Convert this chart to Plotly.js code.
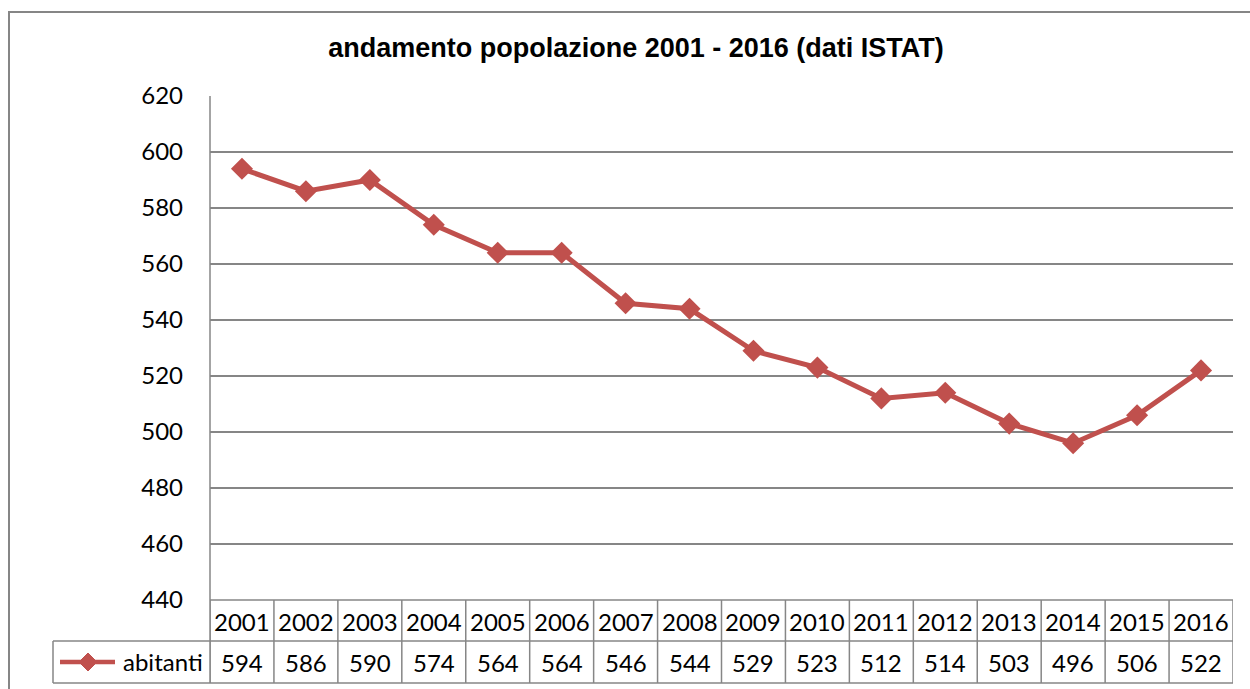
<!DOCTYPE html>
<html><head><meta charset="utf-8">
<script src="https://cdn.plot.ly/plotly-3.0.1.min.js"></script>
<style>body{margin:0;background:#fff}#c{width:1250px;height:689px}</style>
</head><body><div id="c"></div>
<script>
const years = ["2001","2002","2003","2004","2005","2006","2007","2008","2009","2010","2011","2012","2013","2014","2015","2016"];
const abitanti = [594,586,590,574,564,564,546,544,529,523,512,514,503,496,506,522];
const seriesName = "abitanti";
const titleText = "andamento popolazione 2001 - 2016 (dati ISTAT)";

const W=1250,H=689,L=210,R=17,T=96,B=89;
const pw=W-L-R, ph=H-T-B;
const py = px => (H-B-px)/ph;   // pixel y -> paper y
const pxX = px => (px-L)/pw;    // pixel x -> paper x
const gray="#868686", red="#C0504D";
const font="Lato, 'Open Sans', sans-serif";
const fs=24;

const shapes=[];
shapes.push({type:'rect',xref:'paper',yref:'paper',x0:pxX(9),x1:pxX(1300),y0:py(740),y1:py(12),line:{color:gray,width:2}});
shapes.push({type:'line',xref:'paper',yref:'paper',x0:0,x1:1,y0:py(600),y1:py(600),line:{color:gray,width:1.5}});
shapes.push({type:'line',xref:'paper',yref:'paper',x0:pxX(53),x1:1,y0:py(641),y1:py(641),line:{color:gray,width:1.5}});
shapes.push({type:'line',xref:'paper',yref:'paper',x0:pxX(53),x1:1,y0:py(683),y1:py(683),line:{color:gray,width:1.5}});
shapes.push({type:'line',xref:'paper',yref:'paper',x0:pxX(53),x1:pxX(53),y0:py(641),y1:py(683),line:{color:gray,width:1.5}});
shapes.push({type:'line',xref:'paper',yref:'paper',x0:0,x1:0,y0:py(683),y1:1,line:{color:gray,width:1.5}});
for(let k=0;k<=years.length;k++){
  shapes.push({type:'line',xref:'x',yref:'paper',x0:k-0.5,x1:k-0.5,y0:py(683),y1:py(600),line:{color:gray,width:1.5}});
}
shapes.push({type:'line',xref:'paper',yref:'paper',x0:pxX(60),x1:pxX(115),y0:py(662),y1:py(662),line:{color:red,width:4.5}});
shapes.push({type:'path',xref:'paper',yref:'paper',
  path:`M ${pxX(88)} ${py(653)} L ${pxX(97)} ${py(662)} L ${pxX(88)} ${py(671)} L ${pxX(79)} ${py(662)} Z`,
  fillcolor:red,line:{color:red,width:1}});

const annotations=[];
years.forEach((y,i)=>{
  annotations.push({xref:'x',yref:'paper',x:i,y:py(621),text:y,showarrow:false,xanchor:'center',yanchor:'middle',font:{family:font,size:fs,color:'#000'}});
  annotations.push({xref:'x',yref:'paper',x:i,y:py(662),text:String(abitanti[i]),showarrow:false,xanchor:'center',yanchor:'middle',font:{family:font,size:fs,color:'#000'}});
});
annotations.push({xref:'paper',yref:'paper',x:pxX(205),y:py(661),text:seriesName,showarrow:false,xanchor:'right',yanchor:'middle',font:{family:font,size:fs,color:'#000'}});

const trace={x:years.map((_,i)=>i),y:abitanti,type:'scatter',mode:'lines+markers',name:seriesName,
  line:{color:red,width:5},marker:{symbol:'diamond',size:17,color:red},cliponaxis:false,hoverinfo:'skip'};

const layout={width:W,height:H,margin:{l:L,r:R,t:T,b:B},paper_bgcolor:'#fff',plot_bgcolor:'#fff',showlegend:false,
  title:{text:titleText,xref:'container',yref:'container',x:636/W,y:1-48/H,xanchor:'center',yanchor:'middle',
    font:{family:"'Liberation Sans', Arial, sans-serif",size:27,color:'#000',weight:'bold'}},
  xaxis:{range:[-0.5,years.length-0.5],showgrid:false,zeroline:false,showticklabels:false,ticks:'',showline:false,fixedrange:true},
  yaxis:{range:[440,620],dtick:20,tick0:440,showgrid:true,gridcolor:gray,gridwidth:1.5,zeroline:false,showline:false,ticks:'',
    ticklabelstandoff:26,tickfont:{family:font,size:fs,color:'#000'},fixedrange:true},
  shapes:shapes,annotations:annotations};
Plotly.newPlot('c',[trace],layout,{displayModeBar:false,staticPlot:true});
</script></body></html>
